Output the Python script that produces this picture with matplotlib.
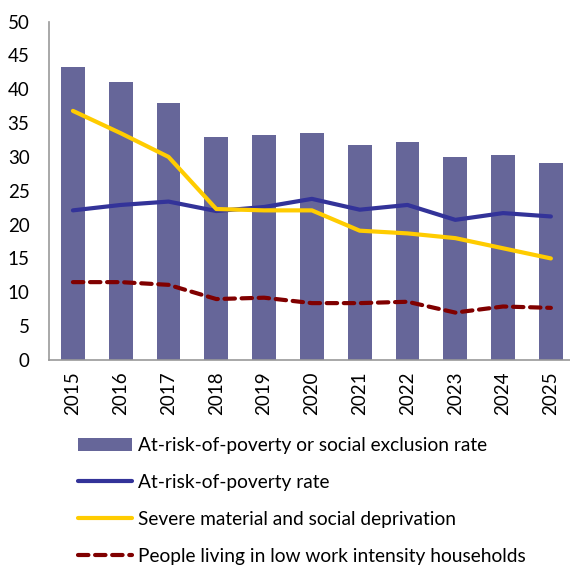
import matplotlib
matplotlib.use("Agg")
import matplotlib.pyplot as plt
import numpy as np

years = ["2015", "2016", "2017", "2018", "2019", "2020", "2021", "2022", "2023", "2024", "2025"]
arope = [43.3, 41.0, 38.0, 33.0, 33.2, 33.5, 31.7, 32.2, 30.0, 30.3, 29.1]
arop = [22.1, 22.9, 23.4, 22.0, 22.6, 23.8, 22.2, 22.9, 20.7, 21.7, 21.2]
smsd = [36.8, 33.5, 30.0, 22.3, 22.1, 22.1, 19.1, 18.7, 18.0, 16.5, 15.0]
lwi = [11.5, 11.5, 11.1, 9.0, 9.2, 8.4, 8.4, 8.6, 7.0, 7.9, 7.7]

plt.rcParams['font.family'] = ['Lato', 'DejaVu Sans']

fig = plt.figure(figsize=(5.7, 5.66), dpi=100)
ax = fig.add_axes([0.086, 0.364, 0.914, 0.598])

x = np.arange(len(years))
b = ax.bar(x, arope, width=0.5, color="#666699", label="At-risk-of-poverty or social exclusion rate")
l1, = ax.plot(x, arop, color="#333399", lw=3, solid_capstyle="round", label="At-risk-of-poverty rate")
l2, = ax.plot(x, smsd, color="#FFCC00", lw=3, solid_capstyle="round", label="Severe material and social deprivation")
l3, = ax.plot(x, lwi, color="#800000", lw=3, dashes=(2.5, 1.6), dash_capstyle="round",
              label="People living in low work intensity households")

ax.set_xlim(-0.5, 10.4)
ax.set_ylim(0, 50)
ax.set_yticks(range(0, 51, 5))
ax.set_xticks(x)
ax.set_xticklabels(years, rotation=90)
ax.tick_params(axis="both", length=0, labelsize=13.5, colors="black")
ax.tick_params(axis="y", pad=14)
ax.tick_params(axis="x", pad=8)
for s in ["top", "right"]:
    ax.spines[s].set_visible(False)
for s in ["left", "bottom"]:
    ax.spines[s].set_color("#999999")
    ax.spines[s].set_linewidth(1.2)

# bars first in the legend, like the original
fig.legend([b, l1, l2, l3], [h.get_label() for h in [b, l1, l2, l3]],
           loc="upper left", bbox_to_anchor=(0.137, 0.228), frameon=False,
           borderpad=0, borderaxespad=0,
           fontsize=13.8, handlelength=2.8, handletextpad=0.3, labelspacing=1.04)

fig.savefig("out.png", dpi=100)
